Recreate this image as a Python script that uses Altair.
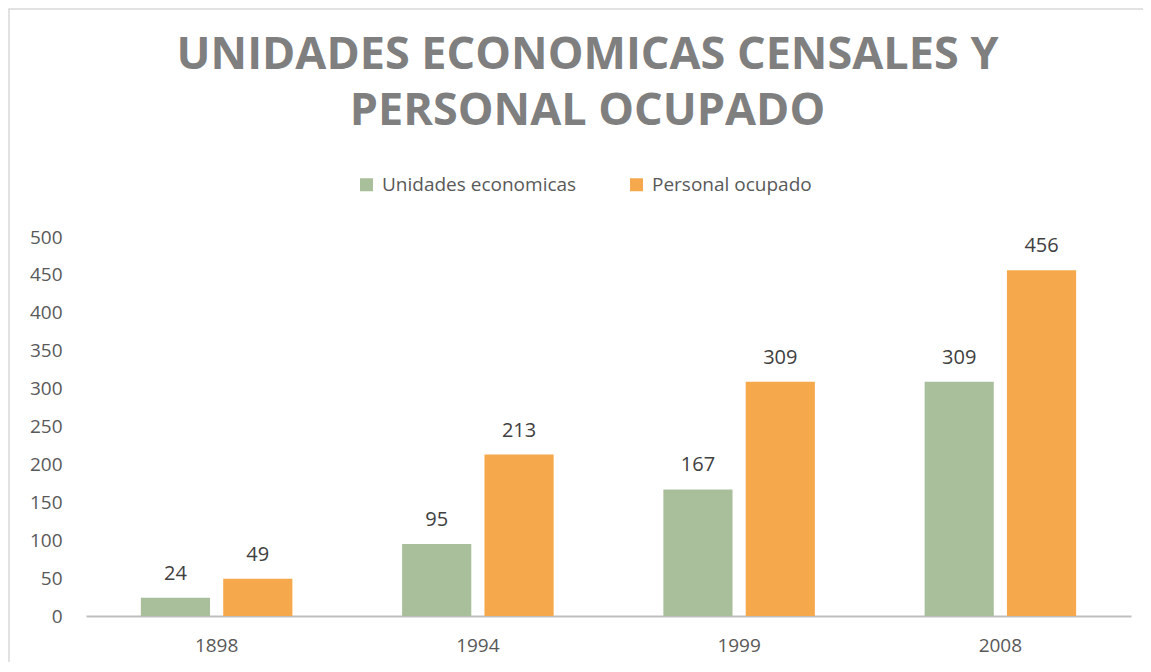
import altair as alt
import pandas as pd

years = ["1898", "1994", "1999", "2008"]
unidades = [24, 95, 167, 309]
personal = [49, 213, 309, 456]
series = ["Unidades economicas", "Personal ocupado"]
colors = ["#A9BF9B", "#F5A94C"]
y_ticks = [0, 50, 100, 150, 200, 250, 300, 350, 400, 450, 500]
title_lines = ["UNIDADES ECONOMICAS CENSALES Y", "PERSONAL OCUPADO"]

rows = []
for i, yr in enumerate(years):
    rows.append({"year": yr, "series": series[0], "value": unidades[i]})
    rows.append({"year": yr, "series": series[1], "value": personal[i]})
df = pd.DataFrame(rows)

F = "Open Sans"

x = alt.X("year:N", sort=years,
          scale=alt.Scale(paddingInner=0.42, paddingOuter=0.21),
          axis=alt.Axis(title=None, labelAngle=0, ticks=False, domainColor="#BFBFBF",
                        domainWidth=2, labelFontSize=19, labelColor="#595959",
                        labelFont=F, labelPadding=20))
xo = alt.XOffset("series:N", sort=series, scale=alt.Scale(paddingInner=0.16))
y = alt.Y("value:Q", scale=alt.Scale(domain=[0, 500], nice=False),
          axis=alt.Axis(title=None, values=y_ticks, grid=False, ticks=False, domain=False,
                        labelFontSize=19, labelColor="#595959", labelFont=F, labelPadding=24))
color = alt.Color("series:N", sort=series,
                  scale=alt.Scale(domain=series, range=colors),
                  legend=alt.Legend(title=None, orient="none", legendX=271, legendY=-62,
                                    direction="horizontal", symbolType="square",
                                    symbolSize=169, symbolStrokeWidth=0,
                                    labelFontSize=19, labelColor="#595959", labelFont=F,
                                    labelLimit=400, labelOffset=6, columnPadding=50))

bars = alt.Chart(df).mark_bar().encode(x=x, xOffset=xo, y=y, color=color)
labels = alt.Chart(df).mark_text(baseline="alphabetic", dy=-18, fontSize=20,
                                 font=F, color="#404040").encode(
    x=x, xOffset=xo, y=y, text="value:Q")
frame = alt.Chart(pd.DataFrame({"k": [0]})).mark_rect(
    fillOpacity=0, stroke="#D9D9D9", strokeWidth=1.5).encode(
    x=alt.value(-77), x2=alt.value(1100), y=alt.value(-228), y2=alt.value(500))

chart = alt.layer(frame, bars, labels).properties(
    width=1045, height=379,
    padding={"left": 78, "top": 229, "right": 12, "bottom": 46},
    autosize=alt.AutoSizeParams(type="none"),
    background="white",
    title=alt.TitleParams(text=title_lines, fontSize=45, font=F, fontWeight="bold",
                          color="#7F7F7F", anchor="middle", frame="group", dx=-21,
                          baseline="bottom", lineHeight=56, offset=-171),
).configure_view(stroke="transparent", strokeWidth=0)

chart.save("out.html", embed_options={"renderer": "svg", "actions": False})
